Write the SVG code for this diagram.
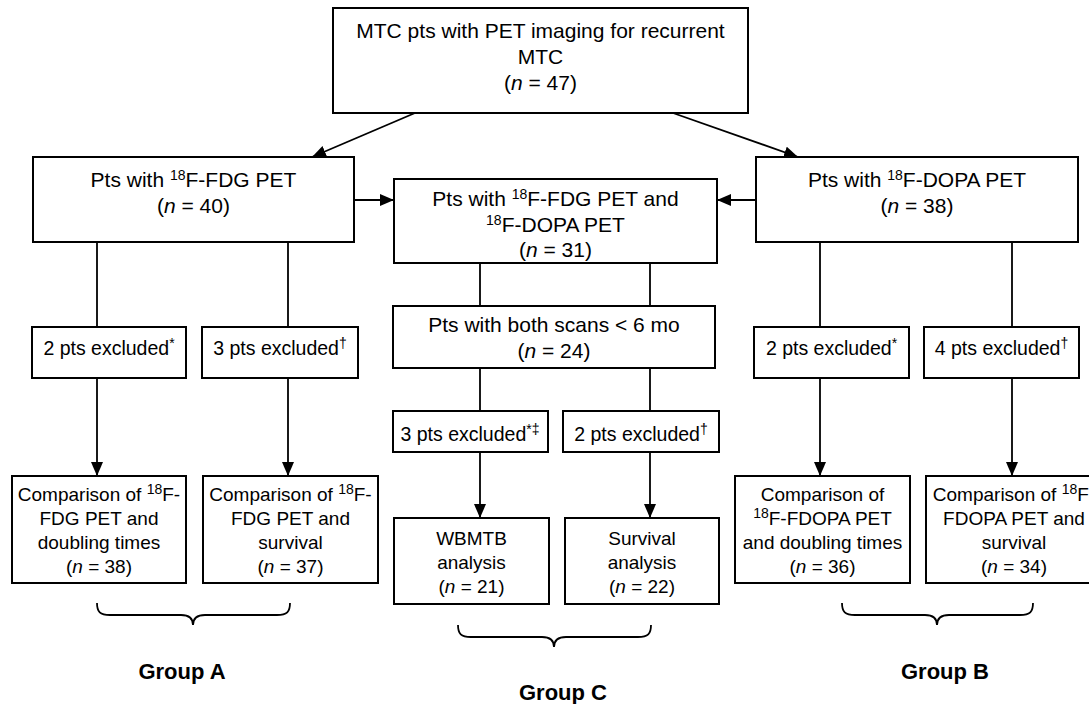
<svg xmlns="http://www.w3.org/2000/svg" width="1089" height="704" viewBox="0 0 1089 704">
<style>
.box{fill:#fff;stroke:#000;stroke-width:2}
.ln{fill:none;stroke:#000;stroke-width:1.8}
.br{fill:none;stroke:#000;stroke-width:1.8}
text{font-family:"Liberation Sans",Arial,sans-serif;fill:#000;text-anchor:middle}
.m{font-size:21px}
.s{font-size:19px}
.x{font-size:19.5px}
.g{font-size:22px;font-weight:bold}
.sup{font-size:14px}
</style>
<defs>
<marker id="ah" markerUnits="userSpaceOnUse" markerWidth="14" markerHeight="12" refX="14" refY="6" orient="auto">
<path d="M0,0 L14,6 L0,12 z" fill="#000"/>
</marker>
</defs>
<rect width="1089" height="704" fill="#fff"/>
<g id="connectors">
<line class="ln" x1="415" y1="113" x2="312" y2="157" marker-end="url(#ah)"/>
<line class="ln" x1="673" y1="113" x2="798" y2="157" marker-end="url(#ah)"/>
<line class="ln" x1="352" y1="200" x2="394" y2="200" marker-end="url(#ah)"/>
<line class="ln" x1="756" y1="200" x2="717" y2="200" marker-end="url(#ah)"/>
<line class="ln" x1="97" y1="242" x2="97" y2="327"/>
<line class="ln" x1="288" y1="242" x2="288" y2="327"/>
<line class="ln" x1="97" y1="378" x2="97" y2="476" marker-end="url(#ah)"/>
<line class="ln" x1="288" y1="378" x2="288" y2="476" marker-end="url(#ah)"/>
<line class="ln" x1="480" y1="263" x2="480" y2="306"/>
<line class="ln" x1="650" y1="263" x2="650" y2="306"/>
<line class="ln" x1="480" y1="368" x2="480" y2="411"/>
<line class="ln" x1="650" y1="368" x2="650" y2="411"/>
<line class="ln" x1="480" y1="452" x2="480" y2="518" marker-end="url(#ah)"/>
<line class="ln" x1="650" y1="452" x2="650" y2="518" marker-end="url(#ah)"/>
<line class="ln" x1="820" y1="242" x2="820" y2="327"/>
<line class="ln" x1="1012" y1="242" x2="1012" y2="327"/>
<line class="ln" x1="820" y1="378" x2="820" y2="476" marker-end="url(#ah)"/>
<line class="ln" x1="1012" y1="378" x2="1012" y2="476" marker-end="url(#ah)"/>
</g>
<g id="top">
<rect class="box" x="333" y="8" width="415" height="105"/>
<text class="m" x="540.5" y="38">MTC pts with PET imaging for recurrent</text>
<text class="m" x="540.5" y="64">MTC</text>
<text class="m" x="540.5" y="90">(<tspan font-style="italic">n</tspan> = 47)</text>
</g>
<g id="fdg">
<rect class="box" x="33" y="157" width="321" height="85"/>
<text class="m" x="193.5" y="187">Pts with <tspan class="sup" dy="-7">18</tspan><tspan dy="7">F-FDG PET</tspan></text>
<text class="m" x="193.5" y="213">(<tspan font-style="italic">n</tspan> = 40)</text>
</g>
<g id="both">
<rect class="box" x="394" y="179" width="323" height="84"/>
<text class="m" x="555.5" y="206">Pts with <tspan class="sup" dy="-7">18</tspan><tspan dy="7">F-FDG PET and</tspan></text>
<text class="m" x="555.5" y="232"><tspan class="sup" dy="-7">18</tspan><tspan dy="7">F-DOPA PET</tspan></text>
<text class="m" x="555.5" y="257">(<tspan font-style="italic">n</tspan> = 31)</text>
</g>
<g id="dopa">
<rect class="box" x="756" y="157" width="322" height="85"/>
<text class="m" x="917" y="187">Pts with <tspan class="sup" dy="-7">18</tspan><tspan dy="7">F-DOPA PET</tspan></text>
<text class="m" x="917" y="213">(<tspan font-style="italic">n</tspan> = 38)</text>
</g>
<g id="scans6mo">
<rect class="box" x="393" y="306" width="322" height="62"/>
<text class="m" x="554" y="332">Pts with both scans &lt; 6 mo</text>
<text class="m" x="554" y="358">(<tspan font-style="italic">n</tspan> = 24)</text>
</g>
<g id="exA1">
<rect class="box" x="32" y="327" width="154" height="51"/>
<text class="x" x="109" y="355">2 pts excluded<tspan class="sup" dy="-7">*</tspan></text>
</g>
<g id="exA2">
<rect class="box" x="202" y="327" width="156" height="51"/>
<text class="x" x="280" y="355">3 pts excluded<tspan class="sup" dy="-7">†</tspan></text>
</g>
<g id="exC1">
<rect class="box" x="393" y="411" width="155" height="41"/>
<text class="x" x="470" y="441">3 pts excluded<tspan class="sup" dy="-7">*‡</tspan></text>
</g>
<g id="exC2">
<rect class="box" x="563" y="411" width="156" height="41"/>
<text class="x" x="641" y="441">2 pts excluded<tspan class="sup" dy="-7">†</tspan></text>
</g>
<g id="exB1">
<rect class="box" x="754" y="327" width="155" height="51"/>
<text class="x" x="831.5" y="355">2 pts excluded<tspan class="sup" dy="-7">*</tspan></text>
</g>
<g id="exB2">
<rect class="box" x="924" y="327" width="155" height="51"/>
<text class="x" x="1001.5" y="355">4 pts excluded<tspan class="sup" dy="-7">†</tspan></text>
</g>
<g id="cmpA1">
<rect class="box" x="12" y="476" width="174" height="107"/>
<text class="s" x="99" y="501">Comparison of <tspan class="sup" dy="-7">18</tspan><tspan dy="7">F-</tspan></text>
<text class="s" x="99" y="525">FDG PET and</text>
<text class="s" x="99" y="549">doubling times</text>
<text class="s" x="99" y="573">(<tspan font-style="italic">n</tspan> = 38)</text>
</g>
<g id="cmpA2">
<rect class="box" x="203" y="476" width="175" height="107"/>
<text class="s" x="290.5" y="501">Comparison of <tspan class="sup" dy="-7">18</tspan><tspan dy="7">F-</tspan></text>
<text class="s" x="290.5" y="525">FDG PET and</text>
<text class="s" x="290.5" y="549">survival</text>
<text class="s" x="290.5" y="573">(<tspan font-style="italic">n</tspan> = 37)</text>
</g>
<g id="wbmtb">
<rect class="box" x="394" y="518" width="155" height="86"/>
<text class="s" x="471.5" y="545">WBMTB</text>
<text class="s" x="471.5" y="569">analysis</text>
<text class="s" x="471.5" y="593">(<tspan font-style="italic">n</tspan> = 21)</text>
</g>
<g id="surv">
<rect class="box" x="565" y="518" width="154" height="86"/>
<text class="s" x="642" y="545">Survival</text>
<text class="s" x="642" y="569">analysis</text>
<text class="s" x="642" y="593">(<tspan font-style="italic">n</tspan> = 22)</text>
</g>
<g id="cmpB1">
<rect class="box" x="735" y="476" width="175" height="107"/>
<text class="s" x="822.5" y="501">Comparison of</text>
<text class="s" x="822.5" y="525"><tspan class="sup" dy="-7">18</tspan><tspan dy="7">F-FDOPA PET</tspan></text>
<text class="s" x="822.5" y="549">and doubling times</text>
<text class="s" x="822.5" y="573">(<tspan font-style="italic">n</tspan> = 36)</text>
</g>
<g id="cmpB2">
<rect class="box" x="926" y="476" width="176" height="107"/>
<text class="s" x="1014" y="501">Comparison of <tspan class="sup" dy="-7">18</tspan><tspan dy="7">F-</tspan></text>
<text class="s" x="1014" y="525">FDOPA PET and</text>
<text class="s" x="1014" y="549">survival</text>
<text class="s" x="1014" y="573">(<tspan font-style="italic">n</tspan> = 34)</text>
</g>
<g id="groupA">
<path class="br" d="M97,603 C97,612 100,615 110,615 L181,615 C189,615 193,618 193,625 C193,618 197,615 205,615 L277,615 C287,615 290,612 290,603"/>
<text class="g" x="182" y="679">Group A</text>
</g>
<g id="groupC">
<path class="br" d="M458,625 C458,634 461,637 471,637 L542,637 C550,637 554,640 554,647 C554,640 558,637 566,637 L638,637 C648,637 651,634 651,625"/>
<text class="g" x="563" y="700">Group C</text>
</g>
<g id="groupB">
<path class="br" d="M842,603 C842,612 845,615 855,615 L925,615 C933,615 937,618 937,625 C937,618 941,615 949,615 L1020,615 C1030,615 1033,612 1033,603"/>
<text class="g" x="945" y="679">Group B</text>
</g>
</svg>
